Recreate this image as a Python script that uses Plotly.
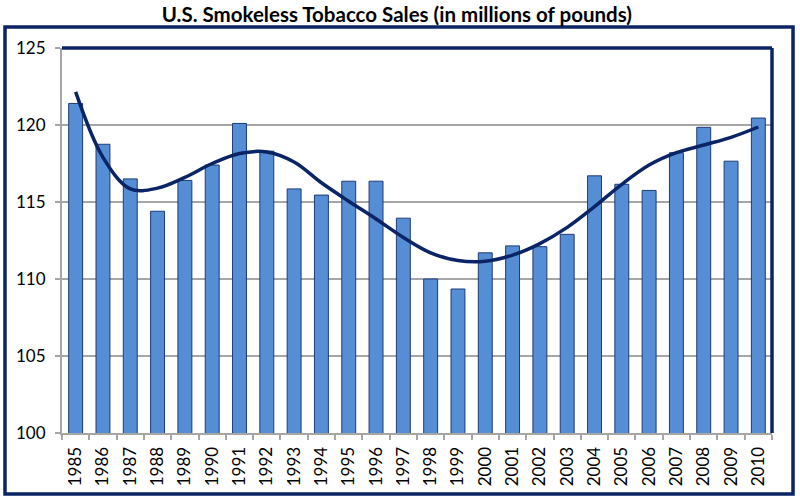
import plotly.graph_objects as go

years = [str(y) for y in range(1985, 2011)]
sales = [121.4, 118.75, 116.5, 114.4, 116.4, 117.4, 120.1, 118.3, 115.85, 115.45,
         116.35, 116.35, 113.95, 110.0, 109.35, 111.7, 112.15, 112.1, 112.9, 116.7,
         116.15, 115.75, 118.2, 119.85, 117.65, 120.45]
trend = [122.15, 117.9, 115.85, 115.9, 116.6, 117.5, 118.15, 118.25, 117.6, 116.25,
         115.05, 113.9, 112.7, 111.7, 111.2, 111.15, 111.55, 112.3, 113.35, 114.7,
         116.15, 117.4, 118.2, 118.7, 119.2, 119.87]
y_ticks = [100, 105, 110, 115, 120, 125]

NAVY = "#0B2466"
BAR = "#558ED5"
GRID = "#A6A6A6"
FONT = "Lato"

fig = go.Figure()
fig.add_trace(go.Bar(x=years, y=sales, marker=dict(color=BAR, line=dict(color="#1F3A78", width=1)),
                     showlegend=False, hoverinfo="x+y"))
fig.add_trace(go.Scatter(x=years, y=trend, mode="lines", line=dict(color=NAVY, width=3.5, shape="spline", smoothing=1.0),
                         showlegend=False, hoverinfo="skip"))

fig.update_layout(
    width=800, height=500,
    margin=dict(l=62, r=28, t=48, b=67, autoexpand=False),
    paper_bgcolor="white", plot_bgcolor="white",
    bargap=0.49,
    title=dict(text="<b>U.S. Smokeless Tobacco Sales (in millions of pounds)</b>",
               x=0.496, xanchor="center", y=0.97, yanchor="middle", yref="container",
               font=dict(family=FONT, size=20.5, color="black")),
    font=dict(family=FONT, color="black"),
    xaxis=dict(type="category", tickangle=-90, tickfont=dict(family=FONT, size=17, color="black"),
               showline=True, linecolor=GRID, linewidth=2, ticks="outside", tickson="boundaries",
               ticklen=5, tickcolor=GRID, tickwidth=1.5, showgrid=False, range=[-0.5, 25.5],
               automargin=False, ticklabelstandoff=5),
    yaxis=dict(range=[100, 125], tickvals=y_ticks, tickfont=dict(family=FONT, size=17, color="black"),
               showline=True, linecolor=GRID, linewidth=2, ticks="outside", ticklen=5,
               tickcolor=GRID, tickwidth=1.5, showgrid=True, gridcolor=GRID, gridwidth=1.5,
               zeroline=False, ticklabelstandoff=6, automargin=False),
    shapes=[
        dict(type="line", xref="paper", yref="paper", x0=0, x1=1.0, y0=1, y1=1,
             line=dict(color=NAVY, width=3.5)),
        dict(type="line", xref="paper", yref="paper", x0=1.0, x1=1.0, y0=1, y1=0,
             line=dict(color=NAVY, width=3.5)),
        dict(type="rect", xref="paper", yref="paper", x0=-0.0803, x1=1.0296, y0=-0.1584, y1=1.0545,
             line=dict(color=NAVY, width=3.5), layer="above"),
    ],
)

fig.write_html("out.html", config={"displayModeBar": False},
               post_script="document.body.style.margin='0';document.body.style.overflow='hidden';")
